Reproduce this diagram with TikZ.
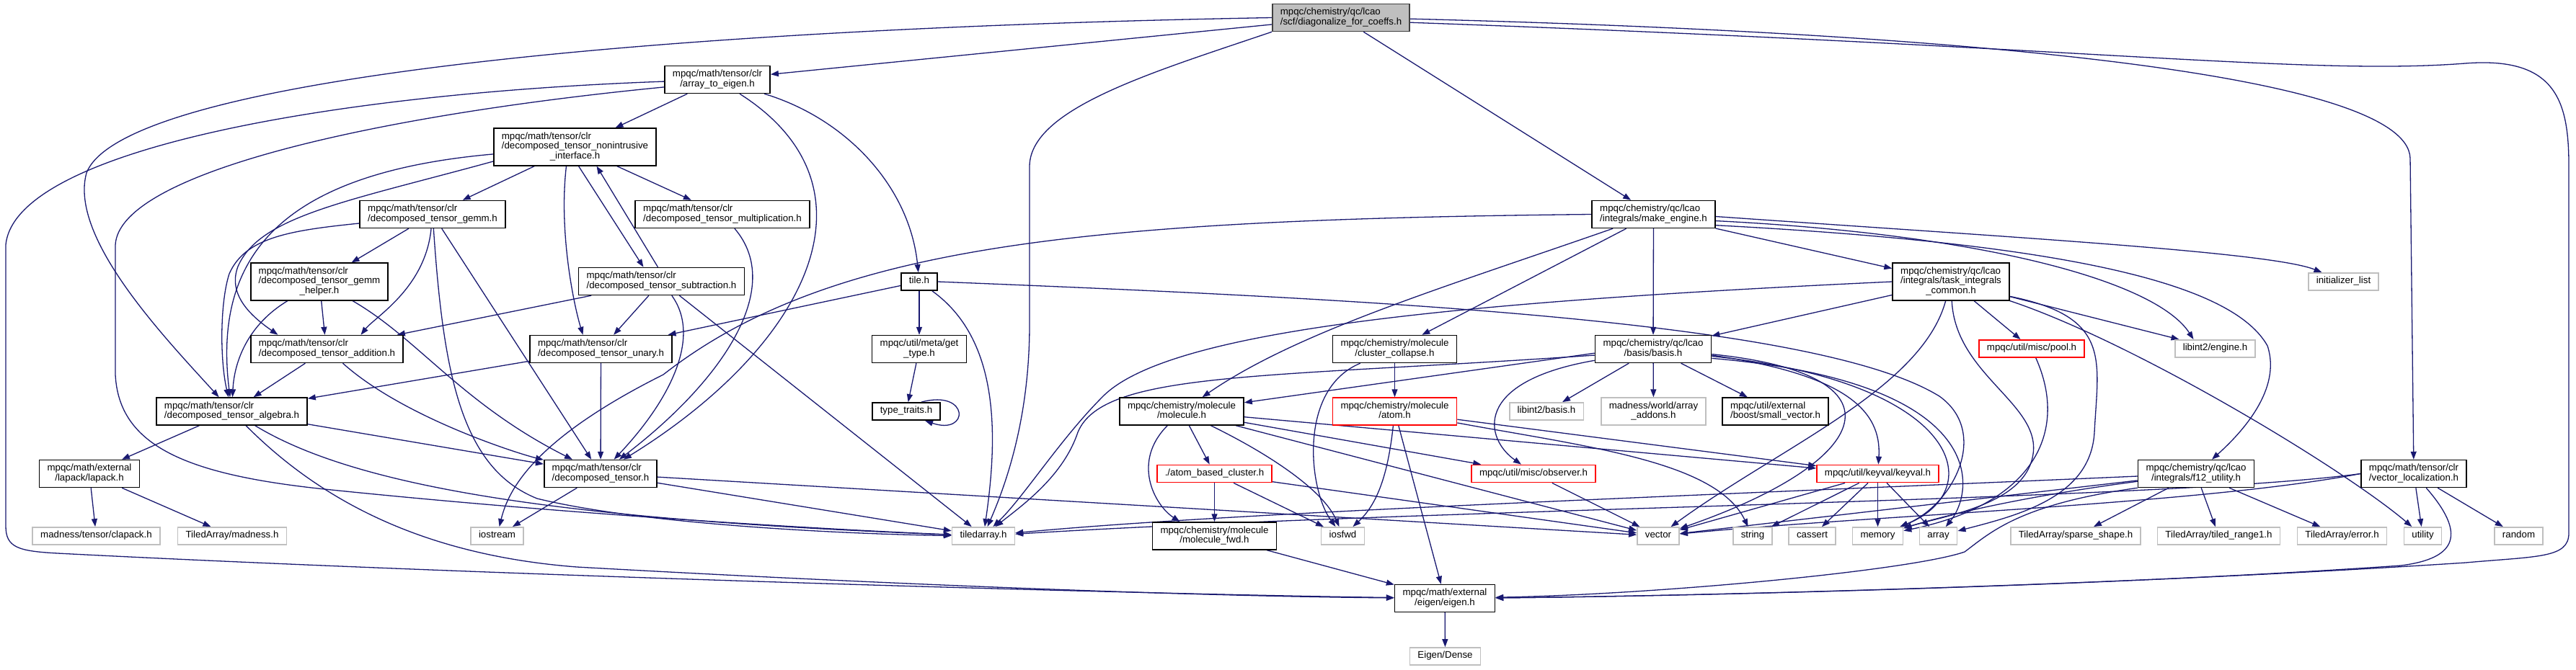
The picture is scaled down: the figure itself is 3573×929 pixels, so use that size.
\documentclass[tikz,border=0pt]{standalone}
\usepackage{fontspec}
\setmainfont{Liberation Sans}
\usepackage{xcolor}
\usepackage{tikz}
\usetikzlibrary{arrows.meta, backgrounds}

\definecolor{edgeblue}{HTML}{191970}
\definecolor{extgray}{HTML}{BFBFBF}
\definecolor{rootfill}{HTML}{BFBFBF}
\definecolor{rootline}{HTML}{404040}
\definecolor{truncred}{HTML}{FF0000}

\newcommand{\fone}[1]{\begin{tabular}{@{}c@{}}#1\end{tabular}}
\newcommand{\ftwo}[2]{\begin{tabular}{@{}l@{}}#1\\\multicolumn{1}{@{}c@{}}{#2}\end{tabular}}
\newcommand{\fthree}[3]{\begin{tabular}{@{}l@{}}#1\\#2\\\multicolumn{1}{@{}c@{}}{#3}\end{tabular}}

\begin{document}
\begin{tikzpicture}[
  x=1pt, y=-1pt,
  font=\fontsize{13.3}{13.3}\selectfont,
  box/.style={draw, line width=1.6pt, fill=white, inner xsep=11pt, inner ysep=5.3pt},
  extbox/.style={box, draw=extgray},
  redbox/.style={box, draw=truncred},
  rootbox/.style={box, draw=rootline, fill=rootfill},
  arrow/.style={-{Triangle[length=11pt,width=8pt]}, draw=edgeblue, line width=1.3pt},
]
\useasboundingbox (0,0) rectangle (3573,929);

% Nodes
\node[rootbox] (root) at (1860,24.5) {\ftwo{mpqc/chemistry/qc/lcao}{/scf/diagonalize\_for\_coeffs.h}};
\node[box] (arrtoeig) at (995,110.5) {\ftwo{mpqc/math/tensor/clr}{/array\_to\_eigen.h}};
\node[box] (nonintr) at (797.5,204) {\fthree{mpqc/math/tensor/clr}{/decomposed\_tensor\_nonintrusive}{\_interface.h}};
\node[box] (gemm) at (600,297.5) {\ftwo{mpqc/math/tensor/clr}{/decomposed\_tensor\_gemm.h}};
\node[box] (mult) at (1002,297.5) {\ftwo{mpqc/math/tensor/clr}{/decomposed\_tensor\_multiplication.h}};
\node[box] (makeeng) at (2293.5,297.5) {\ftwo{mpqc/chemistry/qc/lcao}{/integrals/make\_engine.h}};
\node[box] (gemmhelp) at (443,391) {\fthree{mpqc/math/tensor/clr}{/decomposed\_tensor\_gemm}{\_helper.h}};
\node[box] (subtr) at (917.5,390.5) {\ftwo{mpqc/math/tensor/clr}{/decomposed\_tensor\_subtraction.h}};
\node[box] (tile) at (1275,391) {\fone{tile.h}};
\node[box] (taskint) at (2706,391) {\fthree{mpqc/chemistry/qc/lcao}{/integrals/task\_integrals}{\_common.h}};
\node[extbox] (initlist) at (3250.5,391) {\fone{initializer\_list}};
\node[box] (addition) at (453.5,484.5) {\ftwo{mpqc/math/tensor/clr}{/decomposed\_tensor\_addition.h}};
\node[box] (unary) at (833.5,484.5) {\ftwo{mpqc/math/tensor/clr}{/decomposed\_tensor\_unary.h}};
\node[box] (gettype) at (1275,484.5) {\ftwo{mpqc/util/meta/get}{\_type.h}};
\node[box] (clustcoll) at (1934.5,484.5) {\ftwo{mpqc/chemistry/molecule}{/cluster\_collapse.h}};
\node[box] (basis) at (2293,484.5) {\ftwo{mpqc/chemistry/qc/lcao}{/basis/basis.h}};
\node[redbox] (pool) at (2818,484) {\fone{mpqc/util/misc/pool.h}};
\node[extbox] (engineh) at (3072.5,484) {\fone{libint2/engine.h}};
\node[box] (algebra) at (321.5,571) {\ftwo{mpqc/math/tensor/clr}{/decomposed\_tensor\_algebra.h}};
\node[box] (typetr) at (1257,571) {\fone{type\_traits.h}};
\node[box] (molecule) at (1639,571) {\ftwo{mpqc/chemistry/molecule}{/molecule.h}};
\node[redbox] (atom) at (1934.5,571) {\ftwo{mpqc/chemistry/molecule}{/atom.h}};
\node[extbox] (lbbasis) at (2145,571) {\fone{libint2/basis.h}};
\node[extbox] (arraddons) at (2293.5,571) {\ftwo{madness/world/array}{\_addons.h}};
\node[box] (smallvec) at (2462.5,571) {\ftwo{mpqc/util/external}{/boost/small\_vector.h}};
\node[box] (lapack) at (124,657.5) {\ftwo{mpqc/math/external}{/lapack/lapack.h}};
\node[box] (dectensor) at (833,657.5) {\ftwo{mpqc/math/tensor/clr}{/decomposed\_tensor.h}};
\node[redbox] (atomclust) at (1684.5,657.5) {\fone{./atom\_based\_cluster.h}};
\node[redbox] (observer) at (2127,657.5) {\fone{mpqc/util/misc/observer.h}};
\node[redbox] (keyval) at (2604.5,657.5) {\fone{mpqc/util/keyval/keyval.h}};
\node[box] (f12) at (3046,657.5) {\ftwo{mpqc/chemistry/qc/lcao}{/integrals/f12\_utility.h}};
\node[box] (vecloc) at (3348,657.5) {\ftwo{mpqc/math/tensor/clr}{/vector\_localization.h}};
\node[extbox] (clapack) at (133.5,744) {\fone{madness/tensor/clapack.h}};
\node[extbox] (tamadness) at (322,744) {\fone{TiledArray/madness.h}};
\node[extbox] (iostream) at (689.5,744) {\fone{iostream}};
\node[extbox] (tiledarray) at (1364,744) {\fone{tiledarray.h}};
\node[box] (molfwd) at (1684.5,744) {\ftwo{mpqc/chemistry/molecule}{/molecule\_fwd.h}};
\node[extbox] (iosfwd) at (1862.5,744) {\fone{iosfwd}};
\node[extbox] (vector) at (2300,744) {\fone{vector}};
\node[extbox] (string) at (2431,744) {\fone{string}};
\node[extbox] (cassert) at (2513.5,744) {\fone{cassert}};
\node[extbox] (memory) at (2604.5,744) {\fone{memory}};
\node[extbox] (array) at (2688.5,744) {\fone{array}};
\node[extbox] (sparseshape) at (2879,744) {\fone{TiledArray/sparse\_shape.h}};
\node[extbox] (tiledrange) at (3077.5,744) {\fone{TiledArray/tiled\_range1.h}};
\node[extbox] (taerror) at (3248.5,744) {\fone{TiledArray/error.h}};
\node[extbox] (utility) at (3360.5,744) {\fone{utility}};
\node[extbox] (random) at (3493.5,744) {\fone{random}};
\node[box] (eigenh) at (2004,830.5) {\ftwo{mpqc/math/external}{/eigen/eigen.h}};
\node[extbox] (eigendense) at (2004.5,911) {\fone{Eigen/Dense}};

% Arrows
\begin{scope}[on background layer]
\draw[arrow] (root) -- (arrtoeig);
\draw[arrow] (root.west) .. controls (900,40) and (170,110) .. (120,240) .. controls (95,330) and (230,470) .. (algebra);
\draw[arrow] (root.south west) .. controls (1600,100) and (1430,150) .. (1428,230) -- (1428,450) .. controls (1428,560) and (1405,650) .. (tiledarray);
\draw[arrow] (root) -- (makeeng);
\draw[arrow] (root.-1) .. controls (2700,45) and (3340,100) .. (3343,220) -- (vecloc);
\draw[arrow] (root.-4) .. controls (2900,65) and (3200,105) .. (3419,88) .. controls (3545,78) and (3563,140) .. (3563,230) -- (3563,740) .. controls (3563,775) and (3520,772) .. (3420,781) .. controls (2900,815) and (2300,828) .. (eigenh);

\draw[arrow] (arrtoeig) -- (nonintr);
\draw[arrow] (arrtoeig) .. controls (1230,260) and (1120,480) .. (dectensor);
\draw[arrow] (arrtoeig) .. controls (1175,165) and (1262,260) .. (tile);
\draw[arrow] (arrtoeig.182) .. controls (450,130) and (20,210) .. (8,340) -- (8,730) .. controls (8,760) and (25,765) .. (80,768) .. controls (700,800) and (1600,825) .. (eigenh);
\draw[arrow] (arrtoeig.188) .. controls (520,160) and (165,240) .. (160,340) -- (160,520) .. controls (165,620) and (260,660) .. (460,680) .. controls (800,715) and (1150,735) .. (tiledarray);

\draw[arrow] (nonintr) -- (gemm);
\draw[arrow] (nonintr) -- (mult);
\draw[arrow] ([xshift=5pt]nonintr.south) -- ([xshift=-25pt]subtr.north);
\draw[arrow] ([xshift=-5pt]subtr.north) -- ([xshift=30pt]nonintr.south);
\draw[arrow] ([xshift=-12pt]nonintr.south) .. controls (775,320) and (795,420) .. ([xshift=-25pt]unary.north);
\draw[arrow] (nonintr.185) .. controls (390,240) and (295,355) .. (algebra);
\draw[arrow] (nonintr.190) .. controls (480,280) and (360,300) .. (330,370) .. controls (315,410) and (350,440) .. ([xshift=-68pt]addition.north);

\draw[arrow] (gemm) -- (gemmhelp);
\draw[arrow] (gemm) .. controls (590,400) and (520,440) .. ([xshift=47pt]addition.north);
\draw[arrow] (gemm.187) .. controls (400,320) and (340,330) .. (318,380) .. controls (305,420) and (305,500) .. (algebra);
\draw[arrow] (gemm) -- (dectensor);
\draw[arrow] (gemm) .. controls (615,520) and (640,650) .. (745,692) .. controls (900,730) and (1200,742) .. (tiledarray);

\draw[arrow] (gemmhelp) .. controls (345,450) and (325,500) .. (algebra);
\draw[arrow] (gemmhelp) -- ([xshift=-3pt]addition.north);
\draw[arrow] (gemmhelp) .. controls (580,470) and (640,560) .. (dectensor);

\draw[arrow] (mult) .. controls (1090,400) and (1000,530) .. (dectensor);

\draw[arrow] (subtr) -- (addition);
\draw[arrow] (subtr) -- (unary);
\draw[arrow] (subtr) .. controls (975,470) and (925,560) .. (dectensor);
\draw[arrow] (subtr) -- (tiledarray);

\draw[arrow] (tile) -- (unary);
\draw[arrow] (tile) -- (gettype);
\draw[arrow] (tile) .. controls (1385,470) and (1385,600) .. (tiledarray);
\draw[arrow] (tile.east) .. controls (1900,415) and (2520,445) .. (2690,550) .. controls (2760,600) and (2710,700) .. (memory);

\draw[arrow] (gettype) -- (typetr);
\draw[arrow] ([xshift=-27pt]typetr.north east) .. controls (1345,540) and (1345,605) .. ([xshift=-22pt]typetr.south east);

\draw[arrow] (makeeng) -- (taskint);
\draw[arrow] (makeeng) -- (basis);
\draw[arrow] (makeeng) -- (clustcoll);
\draw[arrow] (makeeng) .. controls (2000,400) and (1800,460) .. (molecule);
\draw[arrow] (makeeng.west) .. controls (1500,305) and (1150,340) .. (920,520) .. controls (740,610) and (705,680) .. (iostream);
\draw[arrow] (makeeng.-2) .. controls (2800,330) and (3150,350) .. ([xshift=-30pt]initlist.north);
\draw[arrow] (makeeng.-6) .. controls (2750,325) and (2990,390) .. ([xshift=-30pt]engineh.north);
\draw[arrow] (makeeng.-10) .. controls (2900,340) and (3100,400) .. (3145,480) .. controls (3165,540) and (3110,600) .. (f12);

\draw[arrow] (taskint) -- (basis);
\draw[arrow] (taskint.west) .. controls (2000,420) and (1620,460) .. (1530,550) .. controls (1470,610) and (1420,690) .. (tiledarray);
\draw[arrow] (taskint) -- (pool);
\draw[arrow] (taskint) -- ([xshift=-50pt]engineh.north);
\draw[arrow] (taskint.-14) .. controls (2930,440) and (2910,500) .. (2905,600) .. controls (2900,690) and (2800,715) .. (array);
\draw[arrow] (taskint.south east) .. controls (2960,475) and (3250,650) .. (utility);
\draw[arrow] (taskint) .. controls (2712,520) and (2830,560) .. (2820,630) .. controls (2810,700) and (2700,715) .. (memory);
\draw[arrow] (taskint) .. controls (2665,540) and (2470,620) .. (vector);

\draw[arrow] (basis) -- (lbbasis);
\draw[arrow] (basis) -- (arraddons);
\draw[arrow] (basis) -- (smallvec);
\draw[arrow] (basis.184) -- (molecule);
\draw[arrow] (basis.186) .. controls (1750,525) and (1530,515) .. (1495,600) .. controls (1475,660) and (1420,700) .. (tiledarray);
\draw[arrow] (basis.191) .. controls (2040,530) and (2060,610) .. ([xshift=-17pt]observer.north);
\draw[arrow] (basis.-5) .. controls (2650,520) and (2600,640) .. (vector);
\draw[arrow] (basis.-6) .. controls (2560,520) and (2610,570) .. (keyval);
\draw[arrow] (basis.-7) .. controls (2720,530) and (2760,680) .. (memory);
\draw[arrow] (basis.-9) .. controls (2760,530) and (2740,680) .. (array);

\draw[arrow] (clustcoll) -- (atom);
\draw[arrow] (clustcoll) .. controls (1800,540) and (1815,680) .. ([xshift=-10pt]iosfwd.north);

\draw[arrow] (molecule) -- (atomclust);
\draw[arrow] (molecule) .. controls (1570,640) and (1600,700) .. ([xshift=-48pt]molfwd.north);
\draw[arrow] (molecule) .. controls (1760,630) and (1835,680) .. ([xshift=-5pt]iosfwd.north);
\draw[arrow] (molecule) -- (vector);
\draw[arrow] (molecule) -- (observer);
\draw[arrow] (molecule) -- (keyval);

\draw[arrow] (atom) .. controls (1925,660) and (1910,700) .. ([xshift=14pt]iosfwd.north);
\draw[arrow] (atom) -- (eigenh);
\draw[arrow] (atom) -- (keyval);
\draw[arrow] (atom) .. controls (2200,620) and (2380,640) .. (string);

\draw[arrow] (atomclust) -- (molfwd);
\draw[arrow] (atomclust) -- (iosfwd);
\draw[arrow] (atomclust) -- (vector);

\draw[arrow] (observer) -- (vector);

\draw[arrow] (keyval) -- (vector);
\draw[arrow] (keyval) -- (string);
\draw[arrow] (keyval) -- (cassert);
\draw[arrow] (keyval) -- (memory);
\draw[arrow] (keyval) -- (array);

\draw[arrow] (pool) .. controls (2870,600) and (2820,700) .. (memory);

\draw[arrow] (f12) .. controls (2300,690) and (1700,712) .. (tiledarray);
\draw[arrow] (f12) -- (vector);
\draw[arrow] (f12) .. controls (2800,690) and (2700,715) .. (memory);
\draw[arrow] (f12.south west) .. controls (2800,700) and (2760,740) .. (2725,766) .. controls (2650,792) and (2300,825) .. (eigenh);
\draw[arrow] (f12) -- (sparseshape);
\draw[arrow] (f12) -- (tiledrange);
\draw[arrow] (f12) -- (taerror);

\draw[arrow] (vecloc) -- (utility);
\draw[arrow] (vecloc) -- (random);
\draw[arrow] (vecloc) .. controls (3420,740) and (3410,775) .. (3330,785) .. controls (2900,815) and (2300,828) .. (eigenh);
\draw[arrow] (vecloc.west) .. controls (3000,695) and (2000,705) .. (tiledarray);
\draw[arrow] (vecloc.west) .. controls (3050,700) and (2600,715) .. (vector);

\draw[arrow] (algebra) -- (lapack);
\draw[arrow] (algebra) -- (dectensor);
\draw[arrow] (algebra) .. controls (500,680) and (800,722) .. (tiledarray);
\draw[arrow] (algebra) .. controls (440,690) and (580,770) .. (800,787) .. controls (1300,815) and (1700,828) .. (eigenh);

\draw[arrow] (lapack) -- (clapack);
\draw[arrow] (lapack) -- (tamadness);

\draw[arrow] (addition) -- (algebra);
\draw[arrow] (addition) .. controls (560,580) and (720,630) .. (dectensor);

\draw[arrow] (unary) -- (algebra);
\draw[arrow] (unary) -- (dectensor);

\draw[arrow] (dectensor) -- (iostream);
\draw[arrow] (dectensor) -- (tiledarray);
\draw[arrow] (dectensor) -- (vector);

\draw[arrow] (molfwd) -- (eigenh);
\draw[arrow] (eigenh) -- (eigendense);
\end{scope}
\end{tikzpicture}
\end{document}
